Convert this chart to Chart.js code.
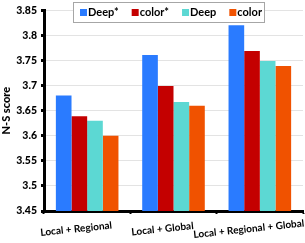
<!DOCTYPE html>
<html>
<head>
<meta charset="utf-8">
<script src="https://cdn.jsdelivr.net/npm/chart.js@4"></script>
<style>
  html, body { margin: 0; padding: 0; background: #ffffff; }
  #wrap { width: 305px; height: 243px; }
</style>
</head>
<body>
<div id="wrap"><canvas id="c" width="305" height="243"></canvas></div>
<script>
// --- data ---
const categories = ['Local + Regional', 'Local + Global', 'Local + Regional + Global'];
const seriesNames = ['Deep*', 'color*', 'Deep', 'color'];
const deepStar  = [3.68, 3.761, 3.82];
const colorStar = [3.639, 3.699, 3.769];
const deep      = [3.63, 3.667, 3.749];
const color     = [3.60, 3.66, 3.739];
const yMin = 3.45, yMax = 3.85, yStep = 0.05;
const yTitle = 'N-S score';

const COLORS = ['#2a7bff', '#c40000', '#5cd8d3', '#f05200'];
const FONT = 'Lato, "Open Sans", sans-serif';

// legend box floats over the plot, so draw it by hand
const floatLegend = {
  id: 'floatLegend',
  afterDraw(chart) {
    const ctx = chart.ctx;
    ctx.save();
    ctx.font = 'bold 11px ' + FONT;
    ctx.textBaseline = 'middle';
    const x0 = 73, y0 = 2, h = 20, box = 7;
    let w = 7;
    chart.data.datasets.forEach((ds, i) => {
      w += box + 1 + ctx.measureText(ds.label).width + (i < 3 ? 13 : 2);
    });
    ctx.fillStyle = '#ffffff';
    ctx.fillRect(x0, y0, w, h);
    ctx.strokeStyle = '#a6a6a6';
    ctx.lineWidth = 1;
    ctx.strokeRect(x0 + 0.5, y0 + 0.5, w, h);
    let x = x0 + 7;
    const cy = y0 + h / 2 + 0.5;
    chart.data.datasets.forEach(ds => {
      ctx.fillStyle = ds.backgroundColor;
      ctx.fillRect(x, cy - box / 2, box, box);
      x += box + 1;
      ctx.fillStyle = '#000000';
      ctx.fillText(ds.label, x, cy);
      x += ctx.measureText(ds.label).width + 13;
    });
    ctx.restore();
  }
};

// slanted category labels under the x axis
const slantLabels = {
  id: 'slantLabels',
  afterDraw(chart) {
    const ctx = chart.ctx;
    const xs = chart.scales.x;
    ctx.save();
    ctx.font = 'bold 10px ' + FONT;
    ctx.fillStyle = '#000000';
    ctx.textAlign = 'center';
    ctx.textBaseline = 'middle';
    chart.data.labels.forEach((lab, i) => {
      const px = xs.getPixelForValue(i) - 11;
      ctx.save();
      ctx.translate(px, xs.top + 18);
      ctx.rotate(-6 * Math.PI / 180);
      ctx.fillText(lab, 0, 0);
      ctx.restore();
    });
    ctx.restore();
  }
};

const seriesData = [deepStar, colorStar, deep, color];

new Chart(document.getElementById('c'), {
  type: 'bar',
  data: {
    labels: categories,
    datasets: seriesNames.map((name, i) => ({
      label: name,
      data: seriesData[i],
      backgroundColor: COLORS[i],
      borderWidth: 0,
      categoryPercentage: 0.725,
      barPercentage: 1
    }))
  },
  options: {
    responsive: false,
    animation: false,
    devicePixelRatio: 1,
    layout: { padding: { top: 6, right: 2, left: 0, bottom: 0 } },
    plugins: {
      legend: { display: false },
      tooltip: { enabled: false }
    },
    scales: {
      x: {
        grid: {
          display: true,
          drawOnChartArea: false,
          drawTicks: true,
          tickLength: 3,
          tickColor: '#000000',
          tickWidth: 2,
          offset: true
        },
        border: { display: true, color: '#000000', width: 3 },
        ticks: { display: false },
        afterFit(scale) { scale.height = 32; }
      },
      y: {
        min: yMin,
        max: yMax,
        grid: {
          color: '#e3e3e3',
          lineWidth: 1,
          drawTicks: true,
          tickLength: 3,
          tickColor: '#000000',
          tickWidth: 3
        },
        border: { display: true, color: '#000000', width: 3 },
        ticks: {
          stepSize: yStep,
          padding: 4,
          color: '#000000',
          font: { family: FONT, size: 10.5, weight: '900' },
          callback: v => String(+(+v).toFixed(2))
        },
        title: {
          display: true,
          text: yTitle,
          color: '#000000',
          padding: 0,
          font: { family: FONT, size: 11, weight: '900' }
        },
        afterFit(scale) { scale.width = 44; }
      }
    }
  },
  plugins: [floatLegend, slantLabels]
});
</script>
</body>
</html>
